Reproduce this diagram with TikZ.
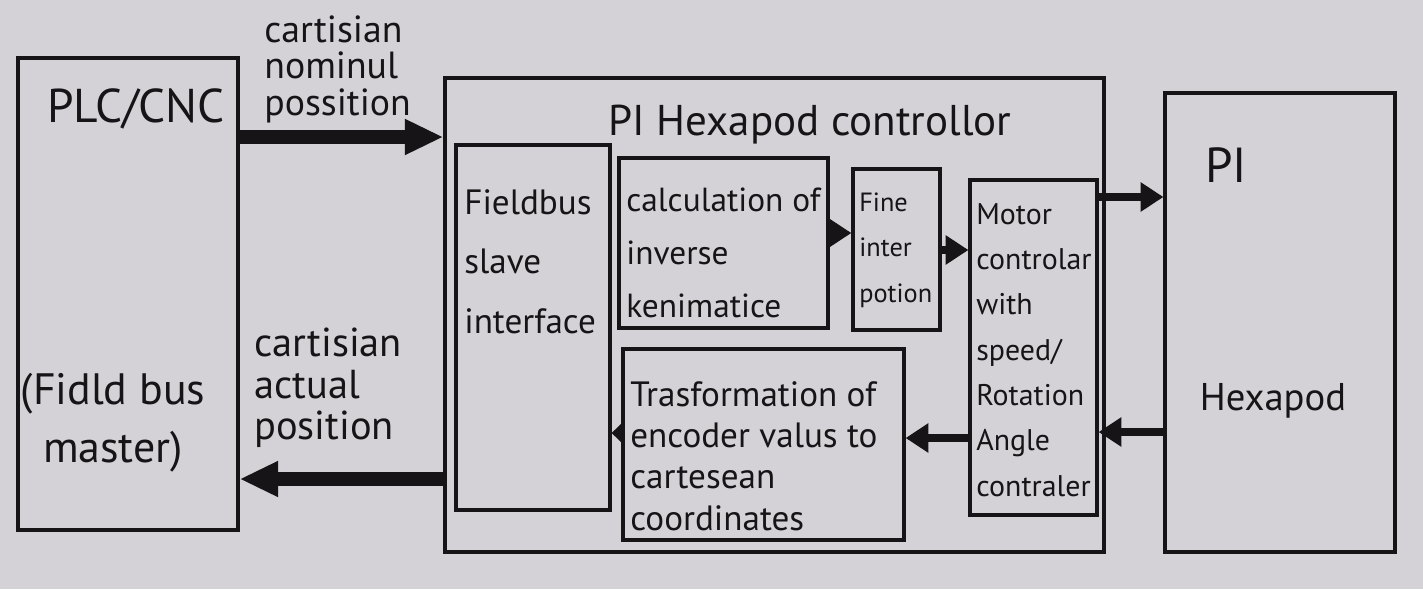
\documentclass[tikz,border=0pt]{standalone}
\usepackage{fontspec}
\setmainfont{PT Sans}
\usetikzlibrary{arrows.meta,fit}
\definecolor{paper}{RGB}{212,210,214}
\definecolor{ink}{RGB}{22,20,22}
\begin{document}
\begin{tikzpicture}[x=0.02cm,y=-0.02cm,
  box/.style={draw=ink,line width=1.8pt,inner sep=0pt},
  lbl/.style={inner sep=0pt,align=left,text=ink},
  bigarrow/.style={draw=ink,line width=8pt,-{Triangle[length=22pt,width=19pt]}},
  smallarrow/.style={draw=ink,line width=5pt,-{Triangle[length=13pt,width=16pt]}},
  tinyarrow/.style={draw=ink,line width=4pt,-{Triangle[length=7pt,width=13pt]}}]
\fill[paper] (0,0) rectangle (1423,589);
\useasboundingbox (0,0) rectangle (1423,589);

% boxes
\node[box,fit={(18,58)(238,530)}] (plc) {};
\node[box,fit={(445,78)(1104,552)}] (ctrl) {};
\node[box,fit={(456,145)(610,510)}] (fb) {};
\node[box,fit={(619,158)(828,328)}] (calc) {};
\node[box,fit={(853,169)(940,330)}] (fine) {};
\node[box,fit={(970,180)(1097,515)}] (motor) {};
\node[box,fit={(623,349)(904,540)}] (trans) {};
\node[box,fit={(1165,93)(1395,552)}] (hex) {};

% texts
\node[lbl,anchor=base,font=\fontsize{27}{30}\selectfont] (plct) at (136,122) {PLC/CNC};
\node[lbl,align=center,anchor=north,font=\fontsize{25}{33}\selectfont] (plcm) at (113,373) {(Fidld bus\\master)};
\node[lbl,anchor=north west,font=\fontsize{21.5}{21}\selectfont] (nom) at (264,15) {cartisian\\nominul\\possition};
\node[lbl,anchor=north west,font=\fontsize{23}{23.5}\selectfont] (act) at (254,328) {cartisian\\actual\\position};
\node[lbl,anchor=base,font=\fontsize{24.5}{28}\selectfont] (ctrlt) at (810,135) {PI Hexapod controllor};
\node[lbl,anchor=north west,font=\fontsize{20}{34}\selectfont] (fbt) at (464,189) {Fieldbus\\slave\\interface};
\node[lbl,anchor=north west,font=\fontsize{19}{30}\selectfont] (calct) at (626,188) {calculation of\\inverse\\kenimatice};
\node[lbl,anchor=north west,font=\fontsize{15}{26}\selectfont] (finet) at (859,192) {Fine\\inter\\potion};
\node[lbl,anchor=north west,font=\fontsize{17}{25.8}\selectfont] (motort) at (976,203) {Motor\\controlar\\with\\speed/\\Rotation\\Angle\\contraler};
\node[lbl,anchor=north west,font=\fontsize{20}{23.5}\selectfont] (transt) at (630,381) {Trasformation of\\encoder valus to\\cartesean\\coordinates};
\node[lbl,anchor=base,font=\fontsize{28}{30}\selectfont] (hexa) at (1226,182) {PI};
\node[lbl,anchor=base,font=\fontsize{22}{26}\selectfont] (hexb) at (1273,410) {Hexapod};

% arrow levels
\coordinate (yA) at (0,137);
\coordinate (yB) at (0,479);
\coordinate (yC) at (0,233);
\coordinate (yD) at (0,250);
\coordinate (yE) at (0,197);
\coordinate (yF) at (0,432);
\coordinate (yG) at (0,438);
\coordinate (yH) at (0,433);

% connectors
\draw[bigarrow] (plc.east |- yA) -- (ctrl.west |- yA);
\draw[bigarrow] (ctrl.west |- yB) -- (plc.east |- yB);
\draw[smallarrow] (calc.east |- yC) -- (fine.west |- yC);
\draw[smallarrow] (fine.east |- yD) -- (motor.west |- yD);
\draw[smallarrow] (motor.east |- yE) -- (hex.west |- yE);
\draw[smallarrow] (hex.west |- yF) -- (motor.east |- yF);
\draw[smallarrow] (motor.west |- yG) -- (trans.east |- yG);
\draw[tinyarrow] (trans.west |- yH) -- (fb.east |- yH);
\end{tikzpicture}
\end{document}
